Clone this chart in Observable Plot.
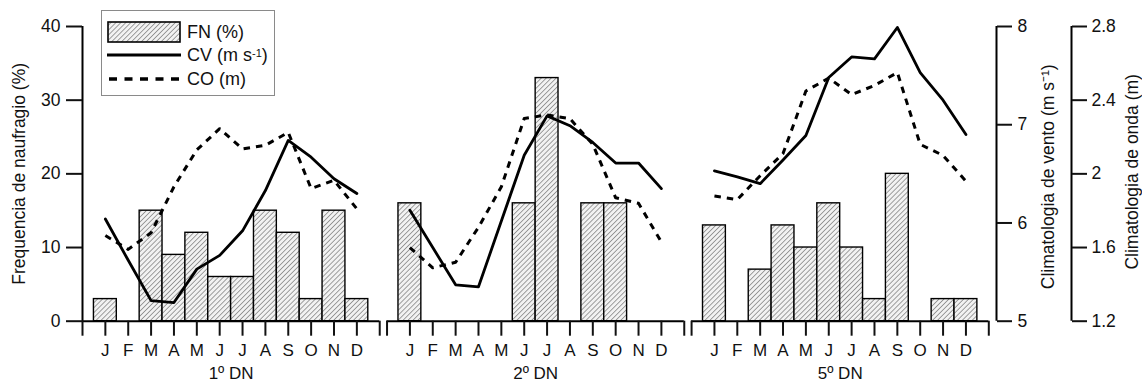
<!DOCTYPE html>
<html>
<head>
<meta charset="utf-8">
<script src="https://cdn.jsdelivr.net/npm/d3@7"></script>
<script src="https://cdn.jsdelivr.net/npm/@observablehq/plot@0.6"></script>
<style>
  html, body { margin: 0; padding: 0; background: #fff; }
  #wrap { position: relative; width: 1142px; height: 384px; font-family: "Liberation Sans", Arial, sans-serif; }
  #legend { position: absolute; left: 101px; top: 10px; width: 174px; height: 86px; border: 1px solid #8a8a8a; background: #fff; box-sizing: border-box; }
  #legend .item { position: absolute; left: 5px; height: 22px; display: flex; align-items: center; font-size: 18px; color: #111; }
  #legend svg { margin-right: 6px; }
</style>
</head>
<body>
<svg width="0" height="0" style="position:absolute">
  <defs>
    <pattern id="hatch" patternUnits="userSpaceOnUse" width="3.5" height="3.5" patternTransform="rotate(45)">
      <rect width="3.5" height="3.5" fill="#f2f2f2"></rect>
      <line x1="0" y1="0" x2="0" y2="3.5" stroke="#4a4a4a" stroke-width="1"></line>
    </pattern>
  </defs>
</svg>
<div id="wrap">
  <div id="chart"></div>
  <div id="legend">
    <div class="item" style="top:10px"><svg width="74" height="22"><rect x="1" y="1" width="72" height="20" fill="url(#hatch)" stroke="#000" stroke-width="1.6"></rect></svg>FN (%)</div>
    <div class="item" style="top:33px"><svg width="74" height="22"><line x1="0" y1="11" x2="74" y2="11" stroke="#000" stroke-width="3"></line></svg>CV (m s<sup style="font-size:11px;position:relative;top:-2px">-1</sup>)</div>
    <div class="item" style="top:57px"><svg width="74" height="22"><line x1="2" y1="11" x2="74" y2="11" stroke="#000" stroke-width="3.5" stroke-dasharray="8,7.5"></line></svg>CO (m)</div>
  </div>
</div>
<script>
// ---- data ----
const months = ["J", "F", "M", "A", "M", "J", "J", "A", "S", "O", "N", "D"];
const panelNames = ["1º DN", "2º DN", "5º DN"];

const fn1 = [3, 0, 15, 9, 12, 6, 6, 15, 12, 3, 15, 3];
const fn2 = [16, 0, 0, 0, 0, 16, 33, 0, 16, 16, 0, 0];
const fn5 = [13, 0, 7, 13, 10, 16, 10, 3, 20, 0, 3, 3];

const cv1 = [6.04, 5.62, 5.21, 5.19, 5.53, 5.67, 5.92, 6.33, 6.84, 6.67, 6.45, 6.30];
const cv2 = [6.13, 5.75, 5.37, 5.35, 6.02, 6.69, 7.09, 6.99, 6.82, 6.61, 6.61, 6.35];
const cv5 = [6.53, 6.47, 6.40, 6.64, 6.89, 7.48, 7.69, 7.67, 7.99, 7.53, 7.25, 6.90];

const co1 = [1.665, 1.59, 1.68, 1.93, 2.13, 2.245, 2.135, 2.155, 2.225, 1.92, 1.965, 1.81];
const co2 = [1.60, 1.49, 1.52, 1.71, 1.93, 2.30, 2.32, 2.30, 2.16, 1.87, 1.84, 1.63];
const co5 = [1.88, 1.86, 1.99, 2.11, 2.45, 2.52, 2.43, 2.48, 2.55, 2.16, 2.10, 1.96];

const fnTicks = [0, 10, 20, 30, 40];
const cvTicks = [5, 6, 7, 8];
const coTicks = [1.2, 1.6, 2.0, 2.4, 2.8];

// ---- layout helpers ----
const fnDomain = [0, 40], cvDomain = [5, 8], coDomain = [1.2, 2.8];
const cvToY = v => (v - cvDomain[0]) / (cvDomain[1] - cvDomain[0]) * fnDomain[1];
const coToY = v => (v - coDomain[0]) / (coDomain[1] - coDomain[0]) * fnDomain[1];
const yToCv = y => cvDomain[0] + y / fnDomain[1] * (cvDomain[1] - cvDomain[0]);
const yToCo = y => coDomain[0] + y / fnDomain[1] * (coDomain[1] - coDomain[0]);

const slots = 13, panelStep = 13.32;
const xMax = panelStep * 2 + slots;

const fnAll = [fn1, fn2, fn5], cvAll = [cv1, cv2, cv5], coAll = [co1, co2, co5];
const rows = [];
panelNames.forEach((name, p) => {
  months.forEach((m, i) => {
    rows.push({panel: name, x: p * panelStep + i + 1, fn: fnAll[p][i], cv: cvAll[p][i], co: coAll[p][i]});
  });
});
const panels = panelNames.map((name, p) => ({name, start: p * panelStep}));
const monthTicks = rows.map(d => d.x);
const monthLabel = new Map(rows.map((d, i) => [d.x, months[i % 12]]));
const edgeTicks = panels.flatMap(p => [p.start, p.start + slots]);

const fmt = v => String(+v.toFixed(1));
const font = "Liberation Sans, Arial, sans-serif";

const chart = Plot.plot({
  width: 1142,
  height: 384,
  marginLeft: 82,
  marginRight: 153.7,
  marginTop: 26,
  marginBottom: 63.3,
  x: {domain: [0, xMax], axis: null},
  y: {domain: fnDomain, axis: null},
  style: {fontFamily: font, fontSize: "17px", color: "#111", background: "#fff", overflow: "visible"},
  marks: [
    // bars
    Plot.rect(rows.filter(d => d.fn > 0), {x1: d => d.x - 0.5, x2: d => d.x + 0.5, y1: 0, y2: "fn", fill: "url(#hatch)", stroke: "#000", strokeWidth: 1.4}),
    // baseline per panel
    Plot.ruleY(panels, {y: 0, x1: "start", x2: d => d.start + slots, stroke: "#000", strokeWidth: 2}),
    // x ticks
    Plot.axisX(monthTicks, {anchor: "bottom", tickSize: 15, tickPadding: 8, strokeWidth: 2, fontSize: 17, tickFormat: x => monthLabel.get(x), label: null}),
    Plot.axisX(edgeTicks, {anchor: "bottom", tickSize: 15, strokeWidth: 2, tickFormat: () => "", label: null}),
    // left y axis
    Plot.ruleX([0], {y1: 0, y2: 40, stroke: "#000", strokeWidth: 2}),
    Plot.axisY(fnTicks, {anchor: "left", tickSize: 16, tickPadding: 6, strokeWidth: 2, fontSize: 17.5, label: null}),
    // CV right axis
    Plot.ruleX([xMax], {y1: 0, y2: 40, dx: 7.7, stroke: "#000", strokeWidth: 2}),
    Plot.axisY(cvTicks.map(cvToY), {anchor: "right", dx: 7.7, tickSize: 15, tickPadding: 6, strokeWidth: 2, fontSize: 17.5, tickFormat: y => fmt(yToCv(y)), label: null}),
    // CO right axis
    Plot.ruleX([xMax], {y1: 0, y2: 40, dx: 82.7, stroke: "#000", strokeWidth: 2}),
    Plot.axisY(coTicks.map(coToY), {anchor: "right", dx: 82.7, tickSize: 15, tickPadding: 5, strokeWidth: 2, fontSize: 17.5, tickFormat: y => fmt(yToCo(y)), label: null}),
    // lines
    Plot.line(rows, {x: "x", y: d => coToY(d.co), z: "panel", stroke: "#000", strokeWidth: 3, strokeDasharray: "6.5,6", strokeLinecap: "butt"}),
    Plot.line(rows, {x: "x", y: d => cvToY(d.cv), z: "panel", stroke: "#000", strokeWidth: 2.8}),
    // panel labels
    Plot.text(panels, {x: d => d.start + slots / 2, y: 0, dy: 52, text: "name", fontSize: 17, lineAnchor: "middle"}),
    // axis titles
    Plot.text(["Frequencia de naufragio (%)"], {frameAnchor: "left", dx: -63, rotate: -90, fontSize: 17.5, textAnchor: "middle", lineAnchor: "middle"}),
    Plot.text(["Climatologia de vento (m s⁻¹)"], {frameAnchor: "right", dx: 59.5, dy: 3, rotate: -90, fontSize: 17.5, textAnchor: "middle", lineAnchor: "middle"}),
    Plot.text(["Climatologia de onda (m)"], {frameAnchor: "right", dx: 144, dy: -2, rotate: -90, fontSize: 17.5, textAnchor: "middle", lineAnchor: "middle"})
  ]
});
document.getElementById("chart").appendChild(chart);
</script>
</body>
</html>
